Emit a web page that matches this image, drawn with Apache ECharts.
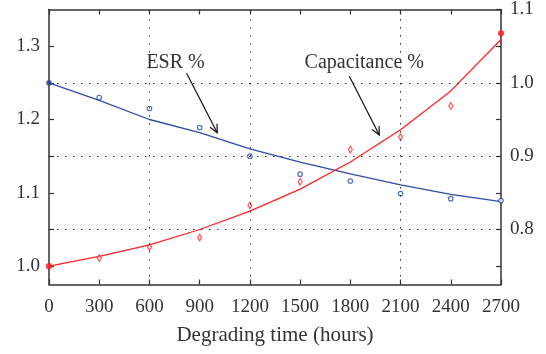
<!DOCTYPE html>
<html>
<head>
<meta charset="utf-8">
<script src="https://cdn.jsdelivr.net/npm/echarts@6/dist/echarts.min.js"></script>
<style>
html,body{margin:0;padding:0;background:#fff;}
#c{width:546px;height:354px;}
</style>
</head>
<body>
<div id="c"></div>
<script>
// ---- data ----
const hours = [0, 300, 600, 900, 1200, 1500, 1800, 2100, 2400, 2700];
const esrFit = [1.25, 1.226, 1.200, 1.182, 1.160, 1.142, 1.126, 1.111, 1.098, 1.088];
const esrMeasured = [1.25, 1.230, 1.215, 1.189, 1.150, 1.1255, 1.116, 1.099, 1.092, 1.0895];
const capFit = [0.75, 0.7635, 0.779, 0.800, 0.825, 0.855, 0.892, 0.936, 0.989, 1.059];
const capMeasured = [0.75, 0.761, 0.776, 0.789, 0.833, 0.865, 0.909, 0.926, 0.9685, 1.0675];
const leftLabels = [1.0, 1.1, 1.2, 1.3];
const leftTicks = [1.0, 1.05, 1.1, 1.15, 1.2, 1.25, 1.3];
const rightLabels = [0.8, 0.9, 1.0, 1.1];
const rightTicks = [0.75, 0.8, 0.85, 0.9, 0.95, 1.0, 1.05, 1.1];
const verticalGrid = [600, 1200, 2100];
const horizontalGridRight = [0.8, 0.9, 1.0];
const filledEsr = [0];
const filledCap = [0, 9];
// annotations in left-axis data coordinates: [tail, head]
const esrArrow = [[822, 1.263], [1005, 1.182]];
const capArrow = [[1794, 1.259], [1973, 1.179]];
const esrText = {text: 'ESR %', at: [756, 1.278]};
const capText = {text: 'Capacitance %', at: [1883, 1.278]};

const FONT = '"Liberation Serif", "DejaVu Serif", serif';
const TXT = '#333';
const AX = '#333';
const BLUE = '#2f4aa8';
const RED = '#ff2424';
const dotted = {type: [1.4, 6.6], color: '#222', width: 1};

const chart = echarts.init(document.getElementById('c'), null, {renderer: 'canvas'});

function pairs(xs, ys) { return xs.map((x, i) => [x, ys[i]]); }

const option = {
  animation: false,
  backgroundColor: '#fff',
  grid: {left: 49, right: 45, top: 9, bottom: 69.5, containLabel: false},
  xAxis: [{
    type: 'value', min: 0, max: 2700, interval: 300, position: 'bottom',
    axisLine: {show: true, onZero: false, lineStyle: {color: AX, width: 1.5}},
    axisTick: {show: true, inside: true, length: 5, lineStyle: {color: AX, width: 1.2}},
    axisLabel: {color: TXT, fontFamily: FONT, fontSize: 19, margin: 13, formatter: v => String(v)},
    splitLine: {show: false},
    name: 'Degrading time (hours)', nameLocation: 'middle', nameGap: 40,
    nameTextStyle: {color: TXT, fontFamily: FONT, fontSize: 21}
  }, {
    type: 'value', min: 0, max: 2700, interval: 300, position: 'top',
    axisLine: {show: true, onZero: false, lineStyle: {color: AX, width: 1.5}},
    axisTick: {show: true, inside: true, length: 5, lineStyle: {color: AX, width: 1.2}},
    axisLabel: {show: false},
    splitLine: {show: false}
  }],
  yAxis: [{
    type: 'value', min: 0.975, max: 1.35, position: 'left',
    axisLine: {show: true, onZero: false, lineStyle: {color: AX, width: 1.5}},
    axisTick: {show: true, inside: true, length: 5, customValues: leftTicks, lineStyle: {color: AX, width: 1.2}},
    axisLabel: {color: TXT, fontFamily: FONT, fontSize: 19, margin: 9, customValues: leftLabels,
      formatter: v => Number(v).toFixed(1)},
    splitLine: {show: false}
  }, {
    type: 'value', min: 0.725, max: 1.1, position: 'right',
    axisLine: {show: true, onZero: false, lineStyle: {color: AX, width: 1.5}},
    axisTick: {show: true, inside: true, length: 5, customValues: rightTicks, lineStyle: {color: AX, width: 1.2}},
    axisLabel: {color: TXT, fontFamily: FONT, fontSize: 19, margin: 9, customValues: rightLabels,
      formatter: v => Number(v).toFixed(1)},
    splitLine: {show: false}
  }],
  series: [{
    name: 'ESR fit', type: 'line', xAxisIndex: 0, yAxisIndex: 0,
    data: pairs(hours, esrFit), showSymbol: false, smooth: false,
    lineStyle: {color: BLUE, width: 1.3}, z: 3,
    markLine: {symbol: 'none', silent: true, label: {show: false}, lineStyle: dotted,
      data: verticalGrid.map(v => ({xAxis: v}))}
  }, {
    name: 'Capacitance fit', type: 'line', xAxisIndex: 0, yAxisIndex: 1,
    data: pairs(hours, capFit), showSymbol: false, smooth: false,
    lineStyle: {color: RED, width: 1.3}, z: 3,
    markLine: {symbol: 'none', silent: true, label: {show: false}, lineStyle: dotted,
      data: horizontalGridRight.map(v => ({yAxis: v}))}
  }, {
    name: 'ESR measured', type: 'scatter', xAxisIndex: 0, yAxisIndex: 0, clip: false,
    data: hours.map((x, i) => filledEsr.includes(i)
      ? {value: [x, esrMeasured[i]], itemStyle: {color: BLUE}}
      : [x, esrMeasured[i]]),
    symbol: 'circle', symbolSize: 4.5,
    itemStyle: {color: '#fff', borderColor: BLUE, borderWidth: 1.2}, z: 4
  }, {
    name: 'Capacitance measured', type: 'scatter', xAxisIndex: 0, yAxisIndex: 1, clip: false,
    data: hours.map((x, i) => filledCap.includes(i)
      ? {value: [x, capMeasured[i]], symbol: 'circle', symbolSize: 5, itemStyle: {color: RED}}
      : [x, capMeasured[i]]),
    symbol: 'diamond', symbolSize: [4, 6.5],
    itemStyle: {color: '#fff', borderColor: RED, borderWidth: 1.2}, z: 4
  }]
};
chart.setOption(option);

function px(p) { return chart.convertToPixel({xAxisIndex: 0, yAxisIndex: 0}, p); }
function arrow(a) {
  const t = px(a[0]), h = px(a[1]);
  const ang = Math.atan2(h[1] - t[1], h[0] - t[0]);
  const L = 9, spread = 0.45;
  const p1 = [h[0] - L * Math.cos(ang - spread), h[1] - L * Math.sin(ang - spread)];
  const p2 = [h[0] - L * Math.cos(ang + spread), h[1] - L * Math.sin(ang + spread)];
  return [
    {type: 'line', shape: {x1: t[0], y1: t[1], x2: h[0], y2: h[1]}, style: {stroke: '#111', lineWidth: 1.2}, z: 10},
    {type: 'polyline', shape: {points: [p1, h, p2]}, style: {stroke: '#111', lineWidth: 1.2, fill: null}, z: 10}
  ];
}
function label(o) {
  const p = px(o.at);
  return {type: 'text', x: p[0], y: p[1], z: 10,
    style: {text: o.text, fill: TXT, font: '20px ' + FONT, align: 'center', verticalAlign: 'middle'}};
}
chart.setOption({graphic: [].concat(arrow(esrArrow), arrow(capArrow), [label(esrText), label(capText)])});
</script>
</body>
</html>
